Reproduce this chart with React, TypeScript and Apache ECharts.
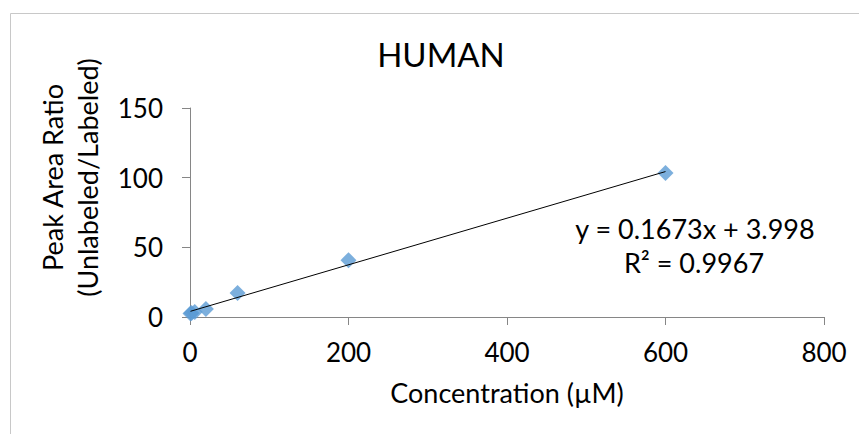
import React, { useEffect, useRef } from "react";
import * as echarts from "echarts";

const concentrations = [0.6, 2, 6, 20, 60, 200, 600];
const ratios = [2.6, 2.9, 3.5, 5.8, 17.2, 40.8, 103.4];
const trendSlope = 0.1673;
const trendIntercept = 3.998;
const trendRange = [0.6, 600];
const titleText = "HUMAN";
const equationText = "y = 0.1673x + 3.998";
const r2Text = "R² = 0.9967";
const xAxisTitle = "Concentration (µM)";
const yAxisTitle = "Peak Area Ratio\n(Unlabeled/Labeled)";

const FONT = "Lato";

export default function App() {
  const ref = useRef<HTMLDivElement>(null);
  useEffect(() => {
    if (!ref.current) return;
    const chart = echarts.init(ref.current, null, { renderer: "svg" });
    const points = concentrations.map((c, i) => [c, ratios[i]]);
    const trend = trendRange.map((x) => [x, trendSlope * x + trendIntercept]);
    chart.setOption({
      animation: false,
      backgroundColor: "#ffffff",
      textStyle: { fontFamily: FONT },
      grid: { left: 190, right: 35, top: 108, bottom: 117, containLabel: false },
      xAxis: {
        type: "value",
        min: 0,
        max: 800,
        interval: 200,
        name: xAxisTitle,
        nameLocation: "middle",
        nameGap: 62,
        nameTextStyle: { fontFamily: FONT, fontSize: 27, color: "#000" },
        axisLine: { show: true, lineStyle: { color: "#868686", width: 1 } },
        axisTick: { show: true, inside: false, length: 8, lineStyle: { color: "#868686" } },
        axisLabel: { fontFamily: FONT, fontSize: 26, color: "#000", margin: 22 },
        splitLine: { show: false },
      },
      yAxis: {
        type: "value",
        min: 0,
        max: 150,
        interval: 50,
        name: yAxisTitle,
        nameLocation: "middle",
        nameRotate: 90,
        nameGap: 85,
        nameTextStyle: {
          fontFamily: FONT,
          fontSize: 27,
          color: "#000",
          lineHeight: 35,
          padding: [0, 0, 0, 70],
        },
        axisLine: { show: true, lineStyle: { color: "#868686", width: 1 } },
        axisTick: { show: true, inside: false, length: 8, lineStyle: { color: "#868686" } },
        axisLabel: { fontFamily: FONT, fontSize: 26, color: "#000", margin: 27 },
        splitLine: { show: false },
      },
      series: [
        {
          type: "line",
          data: trend,
          showSymbol: false,
          symbol: "none",
          lineStyle: { color: "#000", width: 1 },
          z: 3,
          silent: true,
        },
        {
          type: "scatter",
          data: points,
          symbol: "diamond",
          symbolSize: 16,
          itemStyle: { color: "#5B9BD5" },
          z: 2,
        },
      ],
      graphic: [
        {
          type: "rect",
          shape: { x: 10.5, y: 13.5, width: 900, height: 500 },
          style: { fill: "none", stroke: "#C8C8C8", lineWidth: 1 },
          silent: true,
        },
        {
          type: "text",
          x: 441,
          y: 54,
          style: {
            text: titleText,
            fontFamily: FONT,
            fontSize: 33,
            fill: "#000",
            textAlign: "center",
            textVerticalAlign: "middle",
          },
        },
        {
          type: "text",
          x: 695,
          y: 228,
          style: {
            text: equationText,
            fontFamily: FONT,
            fontSize: 27,
            fill: "#000",
            textAlign: "center",
            textVerticalAlign: "middle",
          },
        },
        {
          type: "text",
          x: 694,
          y: 262,
          style: {
            text: r2Text,
            fontFamily: FONT,
            fontSize: 27,
            fill: "#000",
            textAlign: "center",
            textVerticalAlign: "middle",
          },
        },
      ],
    });
    return () => chart.dispose();
  }, []);
  return (
    <div
      ref={ref}
      style={{ position: "absolute", left: 0, top: 0, width: 859, height: 434 }}
    />
  );
}
